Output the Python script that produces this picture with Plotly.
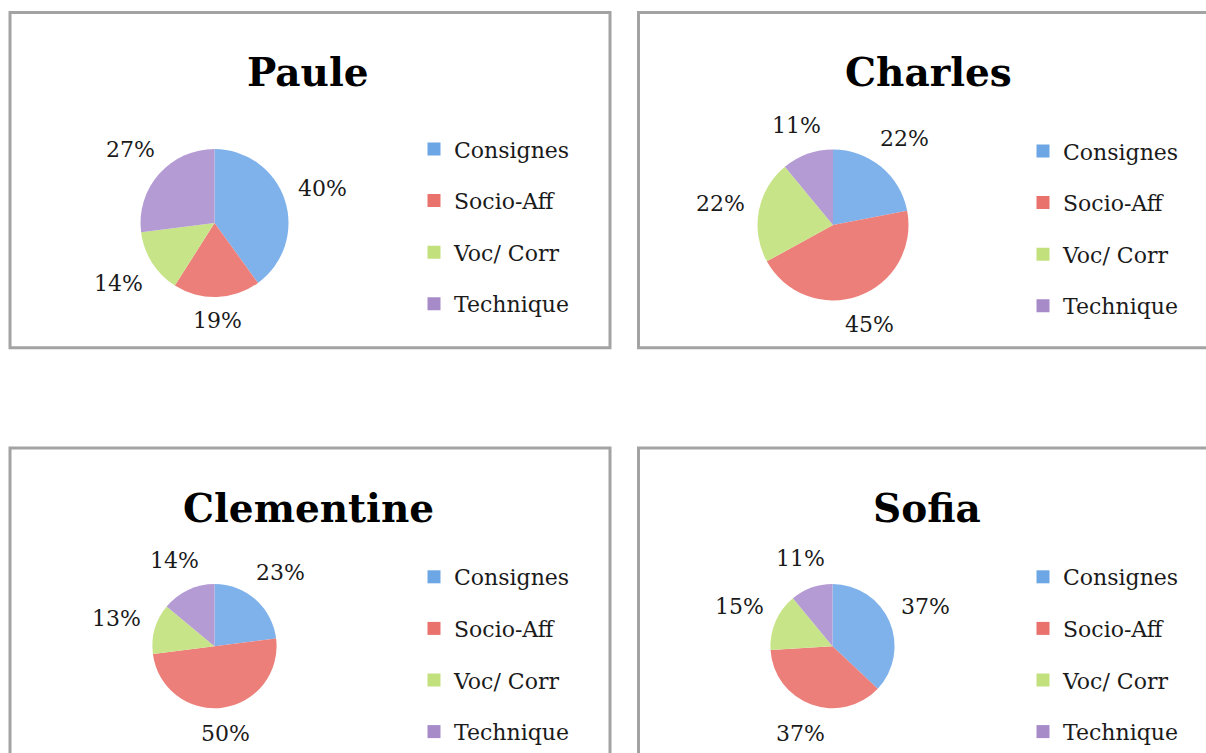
import math
import plotly.graph_objects as go

# Categories shared by all four charts
categories = ["Consignes", "Socio-Aff", "Voc/ Corr", "Technique"]

# Share of each category per person (percent)
paule = [40, 19, 14, 27]
charles = [22, 45, 22, 11]
clementine = [23, 50, 13, 14]
sofia = [37, 37, 15, 11]

people = ["Paule", "Charles", "Clementine", "Sofia"]
series = [paule, charles, clementine, sofia]

slice_colors = ["#7fb1ea", "#ec7f79", "#c8e488", "#b49bd4"]
legend_colors = ["#6da6e4", "#e9726c", "#c2e07c", "#a78bc9"]

W, H = 1206, 753
FONT = "DejaVu Serif"
TEXT_COLOR = "#1a1a1a"


def px(x):
    return x / W


def py(y):
    return 1 - y / H


# Panel layout: pie centre/radius, title centre, legend anchor, frame box
panels = [
    dict(cx=214.5, cy=224.5, r=74.5, tx=308, ty=72, lx=414, ly=129, box=(10, 12.5, 610, 350)),
    dict(cx=833, cy=226.5, r=76, tx=928, ty=72, lx=1023, ly=131, box=(638.5, 12.5, 1230, 350)),
    dict(cx=214.5, cy=650.5, r=62.5, tx=308, ty=511, lx=414, ly=560, box=(10, 451, 610, 780)),
    dict(cx=832.5, cy=650.5, r=62.5, tx=927, ty=511, lx=1023, ly=560, box=(638.5, 451, 1230, 780)),
]

# half extents of a percentage label and its gap to the pie edge
LABEL_HW, LABEL_HH, LABEL_GAP = 25, 11, 12

fig = go.Figure()
legend_names = ["legend", "legend2", "legend3", "legend4"]

for i, (name, vals, p) in enumerate(zip(people, series, panels)):
    fig.add_trace(go.Pie(
        labels=categories,
        values=vals,
        sort=False,
        direction="clockwise",
        rotation=0,
        marker=dict(colors=slice_colors, line=dict(width=0)),
        textinfo="none",
        domain=dict(x=[px(p["cx"] - p["r"]), px(p["cx"] + p["r"])],
                    y=[py(p["cy"] + p["r"]), py(p["cy"] - p["r"])]),
        showlegend=False,
        name=name,
    ))

    # percentage labels placed outside each slice at its mid-angle
    total = sum(vals)
    cum = 0
    for v in vals:
        mid = (cum + v / 2) / total * 2 * math.pi
        cum += v
        dx, dy = math.sin(mid), -math.cos(mid)
        dist = p["r"] + LABEL_GAP + LABEL_HW * abs(dx) + LABEL_HH * abs(dy)
        fig.add_annotation(
            x=px(p["cx"] + dist * dx), y=py(p["cy"] + dist * dy),
            xref="paper", yref="paper", text=f"{v}%", showarrow=False,
            font=dict(family=FONT, size=22, color=TEXT_COLOR),
            xanchor="center", yanchor="middle",
        )

    # legend entries for this chart
    for j, cat in enumerate(categories):
        fig.add_trace(go.Scatter(
            x=[None], y=[None], mode="markers",
            marker=dict(symbol="square", size=13, color=legend_colors[j]),
            name=cat, legend=legend_names[i],
            legendgroup=f"{name}-{cat}", showlegend=True,
        ))

    fig.add_annotation(
        x=px(p["tx"]), y=py(p["ty"]), xref="paper", yref="paper",
        text=f"<b>{name}</b>", showarrow=False,
        font=dict(family=FONT, size=39, color="#000000"),
        xanchor="center", yanchor="middle",
    )
    x0, y0, x1, y1 = p["box"]
    fig.add_shape(type="rect", xref="paper", yref="paper",
                  x0=px(x0), x1=px(x1), y0=py(y1), y1=py(y0),
                  line=dict(color="#a3a3a3", width=3), fillcolor="rgba(0,0,0,0)")

legend_style = dict(
    font=dict(family=FONT, size=22, color=TEXT_COLOR),
    bgcolor="rgba(0,0,0,0)", borderwidth=0,
    tracegroupgap=20, itemwidth=30,
    xanchor="left", yanchor="top",
)
for i, p in enumerate(panels):
    key = "legend" if i == 0 else f"legend{i + 1}"
    fig.update_layout(**{key: dict(legend_style, x=px(p["lx"]), y=py(p["ly"]))})

fig.update_layout(
    width=W, height=H,
    margin=dict(l=0, r=0, t=0, b=0),
    paper_bgcolor="white", plot_bgcolor="white",
    xaxis=dict(visible=False), yaxis=dict(visible=False),
)

fig.write_html("out.html")
